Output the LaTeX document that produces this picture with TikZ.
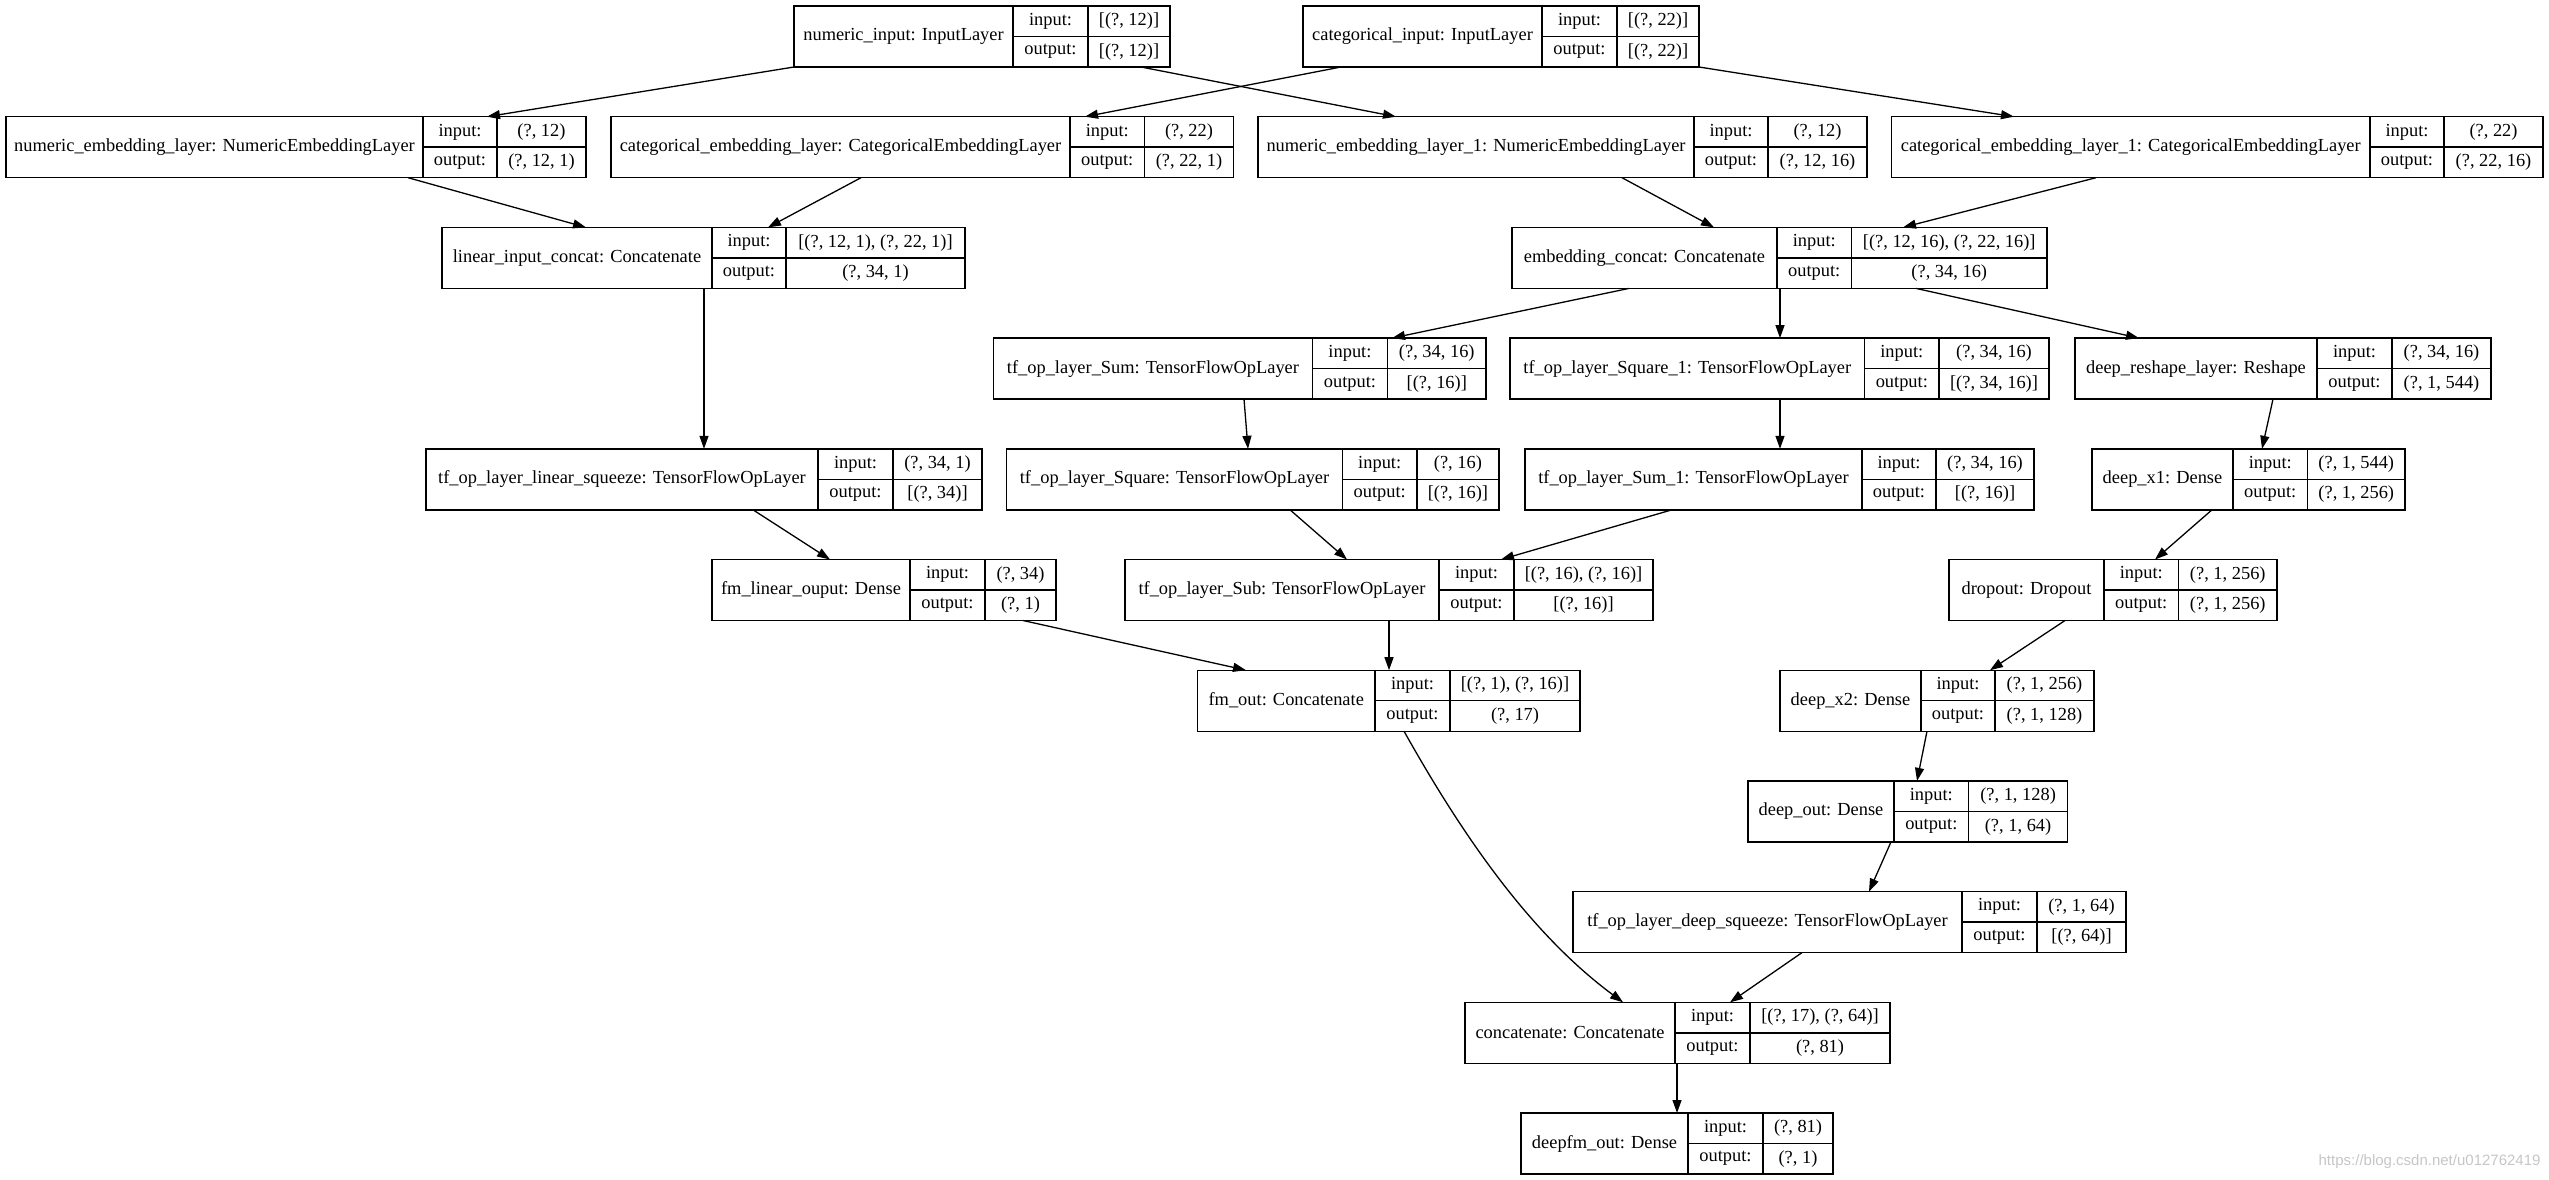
\documentclass[tikz,border=0pt]{standalone}
\usepackage{fontspec}
\setmainfont{Liberation Serif}
\setsansfont{Liberation Sans}
\usetikzlibrary{arrows.meta}

% name, left, label column, value column, right, top, title, input, output
\newcommand{\kerasbox}[9]{%
  \pgfmathsetmacro{\kbname}{#3-#2}%
  \pgfmathsetmacro{\kblab}{#4-#3}%
  \pgfmathsetmacro{\kbval}{#5-#4}%
  \pgfmathsetmacro{\kball}{#5-#2}%
  \node[boxframe, minimum width=\kball pt] (#1) at (#2,#6) {};%
  \node[cellbox, minimum width=\kbname pt, minimum height=61pt] (#1-t) at (#2,#6) {#7};%
  \node[cellbox, minimum width=\kblab pt] (#1-i) at (#1-t.north east) {input:};%
  \node[cellbox, minimum width=\kblab pt] (#1-o) at (#1-i.south west) {output:};%
  \node[cellbox, minimum width=\kbval pt] (#1-iv) at (#1-i.north east) {#8};%
  \node[cellbox, minimum width=\kbval pt] (#1-ov) at (#1-iv.south west) {#9};%
}

\begin{document}
\begin{tikzpicture}[
    x=1pt, y=-1pt,
    font=\fontsize{18.4}{22}\selectfont,
    boxframe/.style = {anchor=north west, inner sep=0pt, outer sep=0pt, minimum height=61pt},
    cellbox/.style = {draw, line width=1.4pt, anchor=north west, inner sep=0pt, outer sep=0pt, minimum height=30.5pt},
    flow/.style = {line width=1.3pt, -{Triangle[length=13pt, width=9pt]}}
  ]
  \useasboundingbox (0,0) rectangle (2549,1180);
  % Row 1.
  \kerasbox{ni}{794}{1013}{1088}{1170}{6}{numeric\_input: InputLayer}{[(?, 12)]}{[(?, 12)]}
  \kerasbox{ci}{1303}{1542}{1617}{1699}{6}{categorical\_input: InputLayer}{[(?, 22)]}{[(?, 22)]}
  % Row 2.
  \kerasbox{ne}{6}{423}{497}{586}{116.7}{numeric\_embedding\_layer: NumericEmbeddingLayer}{(?, 12)}{(?, 12, 1)}
  \kerasbox{ce}{611}{1070}{1144.5}{1233.5}{116.7}{categorical\_embedding\_layer: CategoricalEmbeddingLayer}{(?, 22)}{(?, 22, 1)}
  \kerasbox{neb}{1258}{1694}{1768}{1867}{116.7}{numeric\_embedding\_layer\_1: NumericEmbeddingLayer}{(?, 12)}{(?, 12, 16)}
  \kerasbox{ceb}{1891.5}{2370}{2444}{2543}{116.7}{categorical\_embedding\_layer\_1: CategoricalEmbeddingLayer}{(?, 22)}{(?, 22, 16)}
  % Row 3.
  \kerasbox{lic}{442}{712}{786}{965}{227.4}{linear\_input\_concat: Concatenate}{[(?, 12, 1), (?, 22, 1)]}{(?, 34, 1)}
  \kerasbox{ec}{1512}{1777}{1851.5}{2047}{227.4}{embedding\_concat: Concatenate}{[(?, 12, 16), (?, 22, 16)]}{(?, 34, 16)}
  % Row 4.
  \kerasbox{sum}{993.5}{1312.4}{1387.5}{1486}{338.1}{tf\_op\_layer\_Sum: TensorFlowOpLayer}{(?, 34, 16)}{[(?, 16)]}
  \kerasbox{sqb}{1510}{1864.6}{1939}{2049}{338.1}{tf\_op\_layer\_Square\_1: TensorFlowOpLayer}{(?, 34, 16)}{[(?, 34, 16)]}
  \kerasbox{dr}{2075}{2317}{2392}{2491}{338.1}{deep\_reshape\_layer: Reshape}{(?, 34, 16)}{(?, 1, 544)}
  % Row 5.
  \kerasbox{ls}{426}{818}{893}{982}{448.8}{tf\_op\_layer\_linear\_squeeze: TensorFlowOpLayer}{(?, 34, 1)}{[(?, 34)]}
  \kerasbox{sq}{1006.5}{1342.6}{1416.8}{1499}{448.8}{tf\_op\_layer\_Square: TensorFlowOpLayer}{(?, 16)}{[(?, 16)]}
  \kerasbox{sumb}{1525}{1862}{1936}{2034}{448.8}{tf\_op\_layer\_Sum\_1: TensorFlowOpLayer}{(?, 34, 16)}{[(?, 16)]}
  \kerasbox{dxa}{2092}{2233}{2307.5}{2405}{448.8}{deep\_x1: Dense}{(?, 1, 544)}{(?, 1, 256)}
  % Row 6.
  \kerasbox{flo}{712}{910}{985}{1056}{559.5}{fm\_linear\_ouput: Dense}{(?, 34)}{(?, 1)}
  \kerasbox{sub}{1125}{1439}{1514}{1653}{559.5}{tf\_op\_layer\_Sub: TensorFlowOpLayer}{[(?, 16), (?, 16)]}{[(?, 16)]}
  \kerasbox{drop}{1949}{2104}{2178.5}{2277}{559.5}{dropout: Dropout}{(?, 1, 256)}{(?, 1, 256)}
  % Row 7.
  \kerasbox{fo}{1197.5}{1375}{1450}{1580}{670.2}{fm\_out: Concatenate}{[(?, 1), (?, 16)]}{(?, 17)}
  \kerasbox{dxb}{1780}{1921}{1995}{2094}{670.2}{deep\_x2: Dense}{(?, 1, 256)}{(?, 1, 128)}
  % Rows 8 to 11.
  \kerasbox{dout}{1748}{1894}{1968.6}{2067.5}{780.9}{deep\_out: Dense}{(?, 1, 128)}{(?, 1, 64)}
  \kerasbox{dsq}{1573}{1962}{2037}{2126}{891.6}{tf\_op\_layer\_deep\_squeeze: TensorFlowOpLayer}{(?, 1, 64)}{[(?, 64)]}
  \kerasbox{cc}{1465}{1675}{1750}{1890}{1002.3}{concatenate: Concatenate}{[(?, 17), (?, 64)]}{(?, 81)}
  \kerasbox{dfo}{1521}{1688}{1763}{1833}{1113}{deepfm\_out: Dense}{(?, 81)}{(?, 1)}

  \node[font=\sffamily\fontsize{15}{17}\selectfont, text=gray!45, anchor=east] (wm) at (2544,1162) {https://blog.csdn.net/u012762419};

  \draw[flow] (ni.south -| 794,0) -- (ne.north -| 487,0);
  \draw[flow] (ni.south -| 1141,0) -- (neb.north -| 1396,0);
  \draw[flow] (ci.south -| 1341,0) -- (ce.north -| 1085,0);
  \draw[flow] (ci.south -| 1699,0) -- (ceb.north -| 2014,0);
  \draw[flow] (ne.south -| 408,0) -- (lic.north -| 586,0);
  \draw[flow] (ce.south -| 861,0) -- (lic.north -| 768,0);
  \draw[flow] (neb.south -| 1622,0) -- (ec.north -| 1714,0);
  \draw[flow] (ceb.south -| 2096,0) -- (ec.north -| 1903,0);
  \draw[flow] (lic.south -| 704,0) -- (ls.north -| 704,0);
  \draw[flow] (ec.south -| 1629,0) -- (sum.north -| 1392,0);
  \draw[flow] (ec.south -| 1780,0) -- (sqb.north -| 1780,0);
  \draw[flow] (ec.south -| 1916,0) -- (dr.north -| 2139,0);
  \draw[flow] (sum.south -| 1244,0) -- (sq.north -| 1248,0);
  \draw[flow] (sqb.south -| 1780,0) -- (sumb.north -| 1780,0);
  \draw[flow] (dr.south -| 2273,0) -- (dxa.north -| 2262,0);
  \draw[flow] (ls.south -| 753,0) -- (flo.north -| 830,0);
  \draw[flow] (sq.south -| 1290,0) -- (sub.north -| 1347,0);
  \draw[flow] (sumb.south -| 1672,0) -- (sub.north -| 1501,0);
  \draw[flow] (dxa.south -| 2212,0) -- (drop.north -| 2155,0);
  \draw[flow] (flo.south -| 1023,0) -- (fo.north -| 1246,0);
  \draw[flow] (sub.south -| 1389,0) -- (fo.north -| 1389,0);
  \draw[flow] (drop.south -| 2065,0) -- (dxb.north -| 1990,0);
  \draw[flow] (dxb.south -| 1927,0) -- (dout.north -| 1917,0);
  \draw[flow] (dout.south -| 1891,0) -- (dsq.north -| 1869,0);
  \draw[flow] (dsq.south -| 1802,0) -- (cc.north -| 1730,0);
  \draw[flow] (fo.south -| 1404,0) .. controls (1460,831) and (1528,932) .. (cc.north -| 1623,0);
  \draw[flow] (cc.south -| 1677,0) -- (dfo.north -| 1677,0);
\end{tikzpicture}
\end{document}
